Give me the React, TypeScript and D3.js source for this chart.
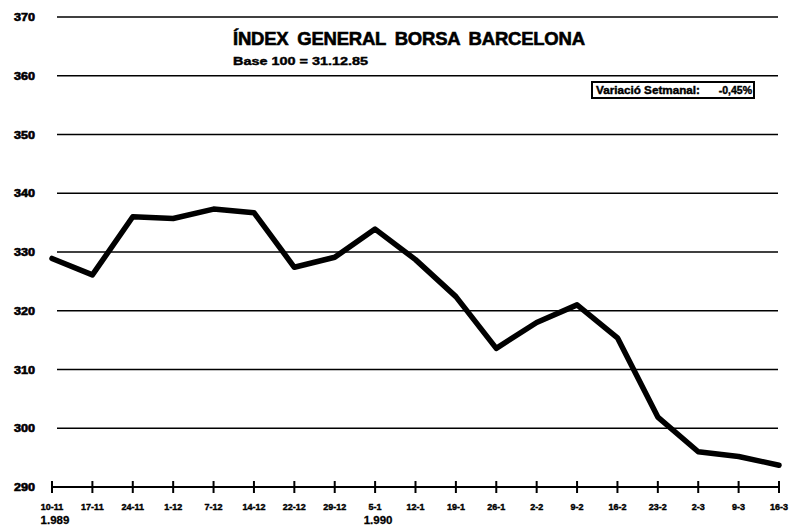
import React from "react";
import * as d3 from "d3";

const dates = ["10-11","17-11","24-11","1-12","7-12","14-12","22-12","29-12","5-1","12-1","19-1","26-1","2-2","9-2","16-2","23-2","2-3","9-3","16-3"];
const values = [328.9, 326.1, 336.0, 335.7, 337.3, 336.7, 327.4, 329.1, 333.9, 328.7, 322.4, 313.6, 318.0, 321.0, 315.4, 301.9, 296.0, 295.2, 293.7];
const yTicks = [290, 300, 310, 320, 330, 340, 350, 360, 370];
const yearLabels = [{ date: "10-11", text: "1.989" }, { date: "5-1", text: "1.990" }];
const title = "ÍNDEX GENERAL BORSA BARCELONA";
const subtitle = "Base 100 = 31.12.85";
const boxLabel = "Variació Setmanal:";
const boxValue = "-0,45%";

const W = 790, H = 528;
const FONT = "'Liberation Sans', Arial, sans-serif";

export default function App() {
  const x = d3.scalePoint<string>().domain(dates).range([52, 779]);
  const y = d3.scaleLinear().domain([290, 370]).range([487, 17]);
  const line = d3.line<number>().x((_, i) => x(dates[i])!).y((d) => y(d)).curve(d3.curveLinear);
  const heavy = { stroke: "#000", strokeWidth: 0.6 };
  return (
    <svg width={W} height={H} style={{ position: "absolute", left: 0, top: 0, background: "#fff" }}>
      <rect x={0} y={0} width={W} height={H} fill="#fff" />
      {yTicks.filter((t) => t !== 290).map((t) => (
        <line key={t} x1={57} x2={778} y1={y(t)} y2={y(t)} stroke="#000" strokeWidth={1.4} />
      ))}
      {yTicks.map((t) => (
        <text key={"l" + t} x={14} y={y(t) + 4} fontFamily={FONT} fontWeight="bold" fontSize={10.5} textLength={21} lengthAdjust="spacingAndGlyphs" {...heavy}>{t}</text>
      ))}
      <line x1={x(dates[0])} x2={x(dates[dates.length - 1])} y1={y(290)} y2={y(290)} stroke="#000" strokeWidth={2} />
      {dates.map((d) => (
        <line key={"t" + d} x1={x(d)} x2={x(d)} y1={y(290) - 6} y2={y(290) + 6} stroke="#000" strokeWidth={2} />
      ))}
      {dates.map((d) => (
        <text key={"x" + d} x={x(d)} y={510} textAnchor="middle" fontFamily={FONT} fontWeight="bold" fontSize={9} {...heavy} strokeWidth={0.4}>{d}</text>
      ))}
      {yearLabels.map((l) => (
        <text key={l.text} x={x(l.date)! + 3} y={524} textAnchor="middle" fontFamily={FONT} fontWeight="bold" fontSize={11.5} {...heavy} strokeWidth={0.3}>{l.text}</text>
      ))}
      <path d={line(values) || ""} fill="none" stroke="#000" strokeWidth={5.5} strokeLinejoin="round" strokeLinecap="round" />
      <text x={233} y={45} fontFamily={FONT} fontWeight="bold" fontSize={18.5} textLength={352} lengthAdjust="spacing" wordSpacing={4} {...heavy}>{title}</text>
      <text x={233} y={65} fontFamily={FONT} fontWeight="bold" fontSize={11} textLength={135} lengthAdjust="spacingAndGlyphs" {...heavy} strokeWidth={0.4}>{subtitle}</text>
      <rect x={592} y={82} width={162} height={16} fill="#fff" stroke="#000" strokeWidth={2} />
      <text x={596} y={94} fontFamily={FONT} fontWeight="bold" fontSize={10.5} textLength={104} lengthAdjust="spacingAndGlyphs" {...heavy} strokeWidth={0.4}>{boxLabel}</text>
      <text x={752} y={94} textAnchor="end" fontFamily={FONT} fontWeight="bold" fontSize={10.5} {...heavy} strokeWidth={0.4}>{boxValue}</text>
    </svg>
  );
}
